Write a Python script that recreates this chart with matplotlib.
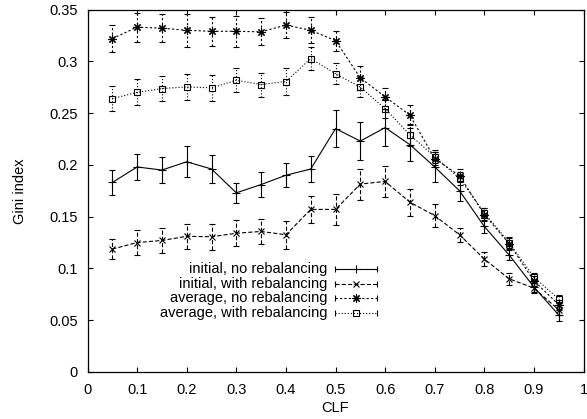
import numpy as np
import matplotlib
matplotlib.use('Agg')
import matplotlib.pyplot as plt
from matplotlib.lines import Line2D

plt.rcParams['font.family'] = ['Liberation Sans', 'DejaVu Sans']
plt.rcParams['lines.scale_dashes'] = False

clf = [0.05, 0.1, 0.15, 0.2, 0.25, 0.3, 0.35, 0.4, 0.45, 0.5,
       0.55, 0.6, 0.65, 0.7, 0.75, 0.8, 0.85, 0.9, 0.95]

init_norb = [0.183, 0.198, 0.195, 0.203, 0.196, 0.173, 0.181, 0.190, 0.196, 0.235,
             0.223, 0.236, 0.2195, 0.198, 0.175, 0.1405, 0.113, 0.082, 0.055]
init_norb_err = [0.012, 0.0125, 0.0124, 0.015, 0.0134, 0.0097, 0.012, 0.0116, 0.0126, 0.0177,
                 0.018, 0.0177, 0.0157, 0.0145, 0.0097, 0.006, 0.005, 0.005, 0.006]

init_rb = [0.1187, 0.125, 0.127, 0.131, 0.1306, 0.134, 0.1357, 0.1325, 0.157, 0.157,
           0.1815, 0.184, 0.164, 0.151, 0.1325, 0.109, 0.090, 0.081, 0.060]
init_rb_err = [0.0097, 0.012, 0.0118, 0.012, 0.0124, 0.0126, 0.012, 0.0134, 0.0127, 0.015,
               0.015, 0.015, 0.013, 0.011, 0.0065, 0.0065, 0.006, 0.0045, 0.005]

avg_norb = [0.322, 0.333, 0.332, 0.330, 0.329, 0.329, 0.3285, 0.335, 0.330, 0.320,
            0.284, 0.2657, 0.248, 0.206, 0.1896, 0.152, 0.124, 0.088, 0.065]
avg_norb_err = [0.013, 0.014, 0.0134, 0.016, 0.0139, 0.015, 0.0129, 0.0129, 0.0124, 0.0097,
                0.0116, 0.009, 0.0097, 0.006, 0.006, 0.006, 0.005, 0.005, 0.005]

avg_rb = [0.264, 0.270, 0.2737, 0.2753, 0.2744, 0.2817, 0.2776, 0.2805, 0.3027, 0.288,
          0.275, 0.2543, 0.229, 0.208, 0.187, 0.1535, 0.125, 0.0916, 0.0703]
avg_rb_err = [0.0124, 0.0126, 0.0124, 0.0126, 0.0124, 0.0116, 0.0116, 0.0129, 0.0110, 0.010,
              0.0097, 0.0087, 0.0105, 0.006, 0.006, 0.005, 0.005, 0.004, 0.004]

labels = ['initial, no rebalancing', 'initial, with rebalancing',
          'average, no rebalancing', 'average, with rebalancing']

xticks = [0, 0.1, 0.2, 0.3, 0.4, 0.5, 0.6, 0.7, 0.8, 0.9, 1]
xticklabels = ['0', '0.1', '0.2', '0.3', '0.4', '0.5', '0.6', '0.7', '0.8', '0.9', '1']
yticks = [0, 0.05, 0.1, 0.15, 0.2, 0.25, 0.3, 0.35]
yticklabels = ['0', '0.05', '0.1', '0.15', '0.2', '0.25', '0.3', '0.35']

fig = plt.figure(figsize=(5.87, 4.19), dpi=100)
ax = fig.add_axes([0.1491, 0.1122, 0.845, 0.865])

fs = 10.5
series = [
    (init_norb, init_norb_err, '+', '-', 6),
    (init_rb, init_rb_err, 'x', (0, (3.0, 1.5)), 5),
    (avg_norb, avg_norb_err, (8, 2, 0), (0, (1.6, 1.6)), 6),
    (avg_rb, avg_rb_err, 's', (0, (0.8, 1.4)), 5),
]

for y, e, m, ls, ms in series:
    line, caps, bars = ax.errorbar(clf, y, yerr=e, fmt='none', ecolor='black',
                                   elinewidth=0.8, capsize=2.4, capthick=0.8)
    bars[0].set_linestyle(ls)
    ax.plot(clf, y, color='black', lw=0.8, linestyle=ls, marker=m, ms=ms,
            mfc='none', mec='black', mew=0.8)

# gnuplot-style key: text right aligned, sample to the right
key_rows = [0.284, 0.243, 0.204, 0.163]
for (y, e, m, ls, ms), lab, ry in zip(series, labels, key_rows):
    ax.text(0.483, ry, lab, transform=ax.transAxes, ha='right', va='center', fontsize=fs)
    ax.add_line(Line2D([0.499, 0.584], [ry, ry], transform=ax.transAxes, color='black',
                       lw=0.8, linestyle=ls))
    ax.add_line(Line2D([0.541], [ry], transform=ax.transAxes, color='black', lw=0,
                       marker=m, ms=ms, mfc='none', mec='black', mew=0.8))
    ax.add_line(Line2D([0.499, 0.584], [ry, ry], transform=ax.transAxes, color='black',
                       lw=0, marker='|', ms=4, mew=0.8))

ax.set_xlim(0, 1)
ax.set_ylim(0, 0.35)
ax.set_xticks(xticks)
ax.set_xticklabels(xticklabels)
ax.set_yticks(yticks)
ax.set_yticklabels(yticklabels)
ax.tick_params(direction='in', top=True, right=True, length=3.8, width=0.8,
               labelsize=fs)
ax.tick_params(axis='x', pad=8)
ax.tick_params(axis='y', pad=7)
for s in ax.spines.values():
    s.set_linewidth(0.9)

ax.set_xlabel('CLF', fontsize=fs, labelpad=3)
ax.set_ylabel('Gini index', fontsize=fs, labelpad=16)

fig.savefig('out.png', dpi=100)
